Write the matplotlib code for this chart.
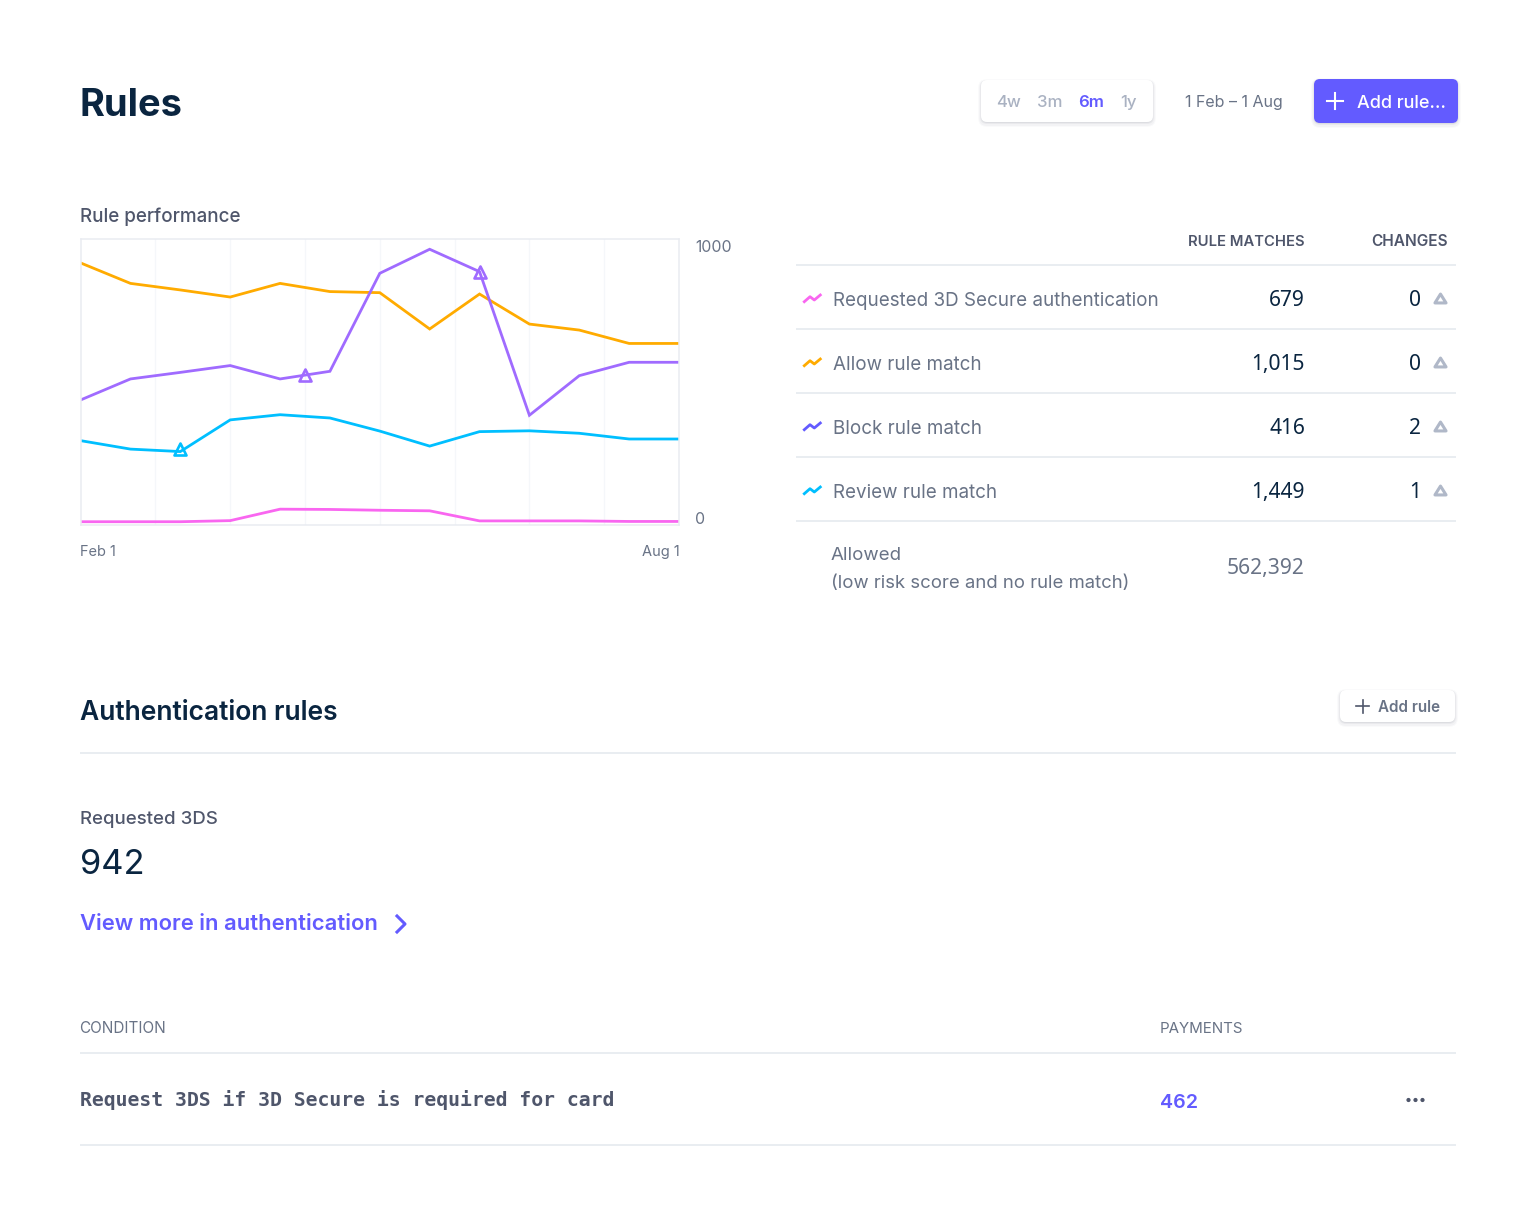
import matplotlib
matplotlib.use('Agg')
import matplotlib.pyplot as plt
from matplotlib.markers import MarkerStyle
from matplotlib.patches import FancyBboxPatch, Circle
from matplotlib.path import Path

# chart values, 13 samples from Feb 1 to Aug 1
allow = [949, 874, 850, 824, 874, 844, 840, 707, 835, 725, 703, 654, 654]
block = [447, 524, 548, 573, 524, 552, 911, 999, 917, 391, 536, 585, 585]
review = [298, 267, 258, 374, 393, 381, 333, 278, 331, 334, 325, 304, 304]
requested = [1, 1, 1, 5, 47, 46, 43, 41, 4, 4, 4, 2, 2]
grid_x = [1.5, 3, 4.5, 6, 7.5, 9, 10.5]
change_x_review = [2]
change_y_review = [267]
change_x_block = [4.5, 8]
change_y_block = [538, 917]

# table
rule_names = ['Requested 3D Secure authentication', 'Allow rule match', 'Block rule match', 'Review rule match']
rule_matches = ['679', '1,015', '416', '1,449']
rule_changes = ['0', '0', '2', '1']
icon_colors = ['#f966f0', '#ffab00', '#635bff', '#00bfff']
periods = ['4w', '3m', '6m', '1y']

NAVY = '#0a2540'
SLATE = '#697386'
DARK = '#4f566b'
LIGHT = '#a3acb9'
RULE = '#e3e8ee'
BLURPLE = '#635bff'
ORANGE = '#ffab00'
PURPLE = '#a06bff'
CYAN = '#00bfff'
PINK = '#f966f0'

plt.rcParams['font.family'] = ['Inter', 'DejaVu Sans']

W, H = 1536, 1228
fig = plt.figure(figsize=(W/100, H/100), dpi=100, facecolor='white')

# page layer in pixel coordinates
page = fig.add_axes([0, 0, 1, 1])
page.set_xlim(0, W)
page.set_ylim(H, 0)
page.axis('off')

tri = MarkerStyle('^', joinstyle='round')
# flatter triangle for the changes column
tri_flat = MarkerStyle(Path([(-1, -0.8), (1, -0.8), (0, 0.8), (-1, -0.8)], closed=True), joinstyle='round')

def px(size):
    return size*0.72

def txt(x, y, s, size, color=NAVY, weight='normal', ha='left', **kw):
    page.text(x, y, s, fontsize=px(size), color=color, fontweight=weight, ha=ha, va='baseline', **kw)

def button(x0, y0, x1, y1, face, radius=6):
    # soft shadow from a few stacked rounded boxes
    for grow, off, a in [(3, 2, 0.025), (2, 2, 0.035), (1, 1, 0.05), (0, 1, 0.07)]:
        page.add_patch(FancyBboxPatch((x0-grow, y0-grow+off), x1-x0+2*grow, y1-y0+2*grow,
                                      boxstyle=f'round,pad=0,rounding_size={radius+grow}',
                                      fc='#3c4257', ec='none', alpha=a))
    page.add_patch(FancyBboxPatch((x0, y0), x1-x0, y1-y0, boxstyle=f'round,pad=0,rounding_size={radius}',
                                  fc=face, ec='none'))

def hline(y, x0=80, x1=1456):
    page.plot([x0, x1], [y, y], color=RULE, lw=1.1, solid_capstyle='butt')

# header
txt(80, 116, 'Rules', 38, weight='bold')
button(981, 80, 1153, 122, 'white')
for x, p in zip([996.5, 1037, 1078.5, 1120.5], periods):
    if p == '6m':
        txt(x, 107, p, 16.8, color=BLURPLE, weight='semibold')
    else:
        txt(x, 107, p, 16.8, color='#aab2c2', weight='medium')
txt(1185, 107, '1 Feb – 1 Aug', 16, color=SLATE)
button(1314, 79, 1458, 123, BLURPLE)
page.plot([1327, 1343], [101, 101], color='white', lw=1.5)
page.plot([1335, 1335], [93, 109], color='white', lw=1.5)
txt(1357, 108, 'Add rule…', 18, color='white', weight='medium')

# chart
txt(80, 222, 'Rule performance', 18.8, color=DARK, weight='medium')
ax = fig.add_axes([80.6/W, 1-525/H, (679-80.6)/W, (525-239)/H])
ax.set_xlim(0, 12)
ax.set_ylim(-11, 1036.6)
for x in grid_x:
    ax.axvline(x, color='#f5f7fa', lw=0.9, zorder=0)
for s in ax.spines.values():
    s.set_color('#e9ecf1')
    s.set_linewidth(1.1)
ax.set_xticks([])
ax.set_yticks([])
xs = list(range(len(allow)))
for vals, c in [(requested, PINK), (review, CYAN), (allow, ORANGE), (block, PURPLE)]:
    ax.plot(xs, vals, color=c, lw=2.0, solid_joinstyle='miter')
ax.plot(change_x_review, change_y_review, ls='none', marker=tri, ms=8.5, mfc='none', mec=CYAN, mew=1.9)
ax.plot(change_x_block, change_y_block, ls='none', marker=tri, ms=8.5, mfc='none', mec=PURPLE, mew=1.9)
txt(695.5, 252, '1000', 15.8, color=SLATE)
txt(695.5, 524, '0', 15.8, color=SLATE)
txt(80, 556, 'Feb 1', 14.6, color=SLATE)
txt(680, 556, 'Aug 1', 14.6, color=SLATE, ha='right')

# table on the right
txt(1305, 246, 'RULE MATCHES', 14.8, color=DARK, weight='semibold', ha='right')
txt(1448, 246, 'CHANGES', 15.4, color=DARK, weight='semibold', ha='right')
hline(265, 796)
for i in range(4):
    y = 299 + 64*i
    page.plot([804.3, 810, 814.3, 820.3], [y+2.7, y-2.3, y+1, y-4], color=icon_colors[i], lw=2.0)
    txt(833, y+7, rule_names[i], 18.8, color=SLATE)
    txt(1305, y+7, rule_matches[i], 21, ha='right', family='Noto Sans')
    txt(1421, y+7, rule_changes[i], 21, ha='right', family='Noto Sans')
    page.plot([1440], [y-1], marker=tri_flat, ms=8, mfc='none', mec='#b0b8c8', mew=2.2, ls='none')
    hline(y+30, 796)
txt(831, 560, 'Allowed', 18.7, color=SLATE)
txt(831, 588, '(low risk score and no rule match)', 18.5, color=SLATE)
txt(1305, 574, '562,392', 21, color=SLATE, ha='right', family='Noto Sans')

# authentication rules
txt(80, 720, 'Authentication rules', 26.4, weight='semibold')
button(1340, 690, 1455, 722, 'white')
page.plot([1356, 1369], [706, 706], color=DARK, lw=1.2)
page.plot([1362.5, 1362.5], [700, 713], color=DARK, lw=1.2)
txt(1378, 712, 'Add rule', 15.2, color=SLATE, weight='semibold')
hline(753)
txt(80, 824, 'Requested 3DS', 18.7, color=DARK, weight='medium')
txt(80, 874, '942', 34.5)
txt(80, 930, 'View more in authentication', 22, color=BLURPLE, weight='semibold')
page.plot([397, 405, 397], [916, 924, 932], color=BLURPLE, lw=2.2)

txt(79.5, 1033, 'CONDITION', 15.3, color=SLATE)
txt(1160, 1033, 'PAYMENTS', 15.1, color=SLATE)
hline(1053)
page.text(80, 1106, 'Request 3DS if 3D Secure is required for card', fontsize=14.2, family='DejaVu Sans Mono',
          fontweight='bold', color=DARK, va='baseline')
txt(1160, 1108, '462', 19.6, color=BLURPLE, weight='semibold')
for x in [1408.5, 1415.5, 1422.5]:
    page.add_patch(Circle((x, 1100), 2.1, fc=DARK, ec='none'))
hline(1145)

fig.savefig('out.png', dpi=100)
